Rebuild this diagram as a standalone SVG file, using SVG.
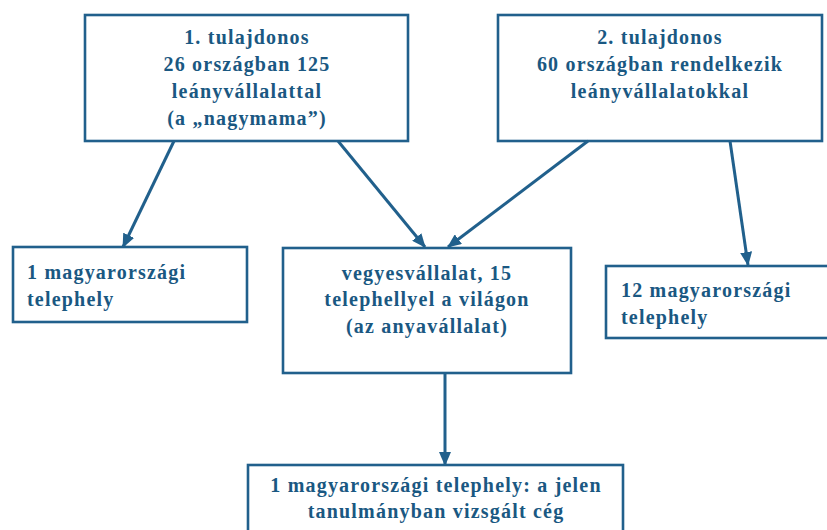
<svg xmlns="http://www.w3.org/2000/svg" width="827" height="530" viewBox="0 0 827 530">
<style>
.box{fill:#fff;stroke:#21608c;stroke-width:2.6}
.t{font-family:"Liberation Serif","Times New Roman",serif;font-weight:bold;font-size:20px;fill:#1a5882;letter-spacing:1.2px}
.c{text-anchor:middle}
.ln{stroke:#21608c;stroke-width:3;fill:none;marker-end:url(#ah)}
</style>
<defs>
<marker id="ah" markerUnits="userSpaceOnUse" viewBox="0 0 14 12" refX="13" refY="6" markerWidth="14" markerHeight="12" orient="auto">
<path d="M0,0 L14,6 L0,12 Z" fill="#21608c"/>
</marker>
</defs>
<rect width="827" height="530" fill="#fff"/>
<g id="owner1">
<rect class="box" x="85" y="15" width="323" height="126"/>
<text class="t c" x="247" y="44">1. tulajdonos</text>
<text class="t c" x="247" y="71">26 országban 125</text>
<text class="t c" x="247" y="98">leányvállalattal</text>
<text class="t c" x="247" y="125">(a „nagymama”)</text>
</g>
<g id="owner2">
<rect class="box" x="498" y="15" width="324" height="126"/>
<text class="t c" x="660" y="44">2. tulajdonos</text>
<text class="t c" x="660" y="71">60 országban rendelkezik</text>
<text class="t c" x="660" y="98">leányvállalatokkal</text>
</g>
<g id="hu1">
<rect class="box" x="13" y="247" width="234" height="75"/>
<text class="t" x="27" y="279">1 magyarországi</text>
<text class="t" x="27" y="306">telephely</text>
</g>
<g id="jv">
<rect class="box" x="283" y="248" width="288" height="125"/>
<text class="t c" x="427" y="280">vegyesvállalat, 15</text>
<text class="t c" x="427" y="306">telephellyel a világon</text>
<text class="t c" x="427" y="333">(az anyavállalat)</text>
</g>
<g id="hu12">
<rect class="box" x="606" y="266" width="230" height="72"/>
<text class="t" x="621" y="297">12 magyarországi</text>
<text class="t" x="621" y="324">telephely</text>
</g>
<g id="studied">
<rect class="box" x="248" y="465" width="375" height="80"/>
<text class="t c" x="436" y="492">1 magyarországi telephely: a jelen</text>
<text class="t c" x="436" y="518">tanulmányban vizsgált cég</text>
</g>
<g id="connectors">
<line class="ln" x1="174" y1="141" x2="123" y2="247"/>
<line class="ln" x1="338" y1="141" x2="425" y2="247"/>
<line class="ln" x1="588" y1="141" x2="448" y2="247"/>
<line class="ln" x1="730" y1="141" x2="748" y2="265"/>
<line class="ln" x1="445" y1="373" x2="445" y2="465"/>
</g>
</svg>
